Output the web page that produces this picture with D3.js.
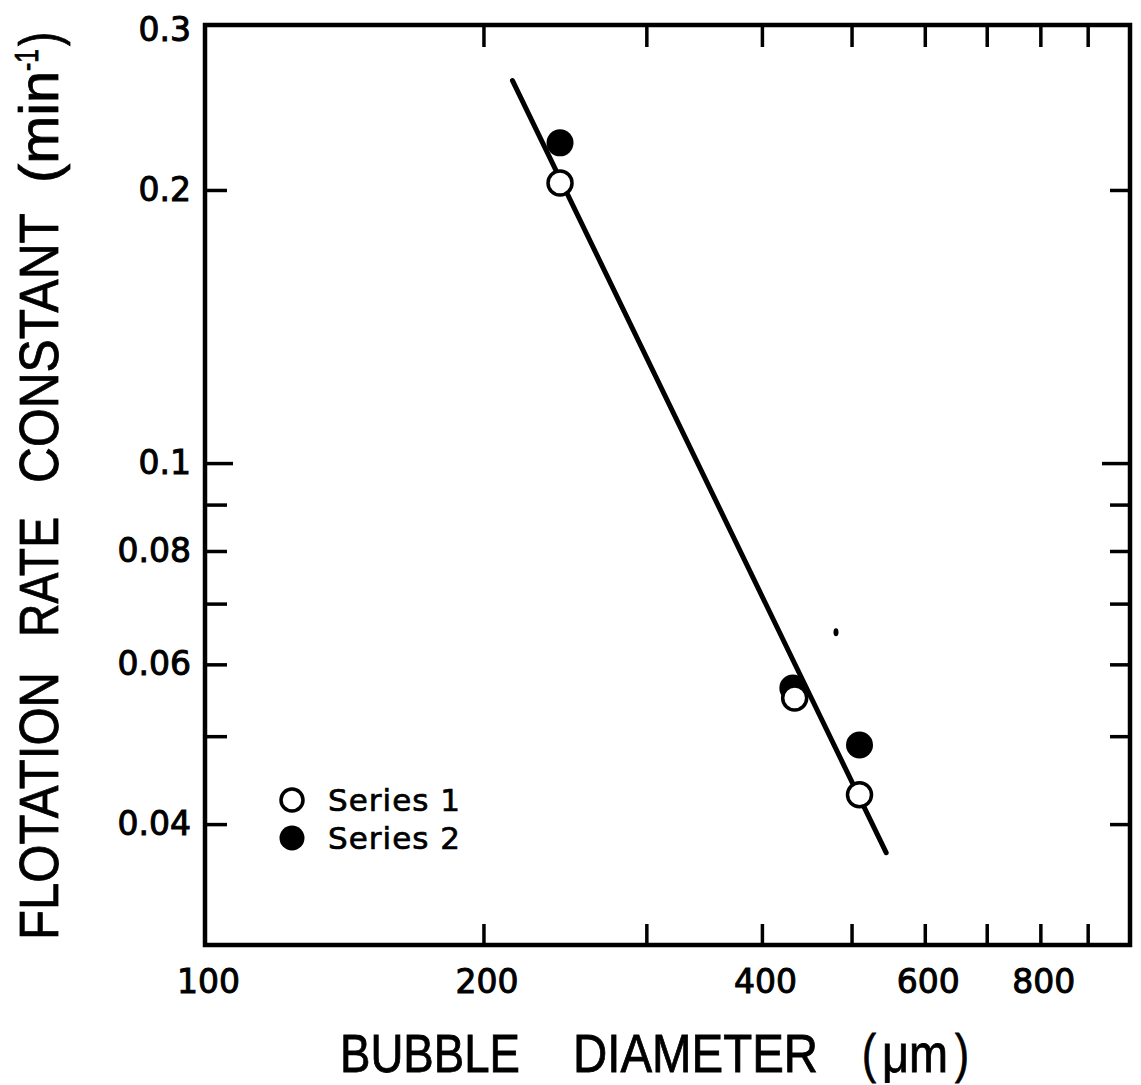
<!DOCTYPE html>
<html><head><meta charset="utf-8">
<script src="https://cdn.jsdelivr.net/npm/d3@7"></script>
<style>body{margin:0;background:#fff} svg{display:block}</style>
</head><body>
<script>
// ---- data ----
const series1X = [242, 434, 510];
const series1Y = [0.2036, 0.0551, 0.0431];
const series2X = [242, 432, 510];
const series2Y = [0.2254, 0.0565, 0.0489];
const fitX = [215, 545];
const fitY = [0.264, 0.0372];
const speckX = [481];
const speckY = [0.0651];
const xTicks = [200, 300, 400, 500, 600, 700, 800, 900];
const xTickLabels = [100, 200, 400, 600, 800];
const yTicks = [0.2, 0.1, 0.09, 0.08, 0.07, 0.06, 0.05, 0.04];
const yTickLabels = [0.3, 0.2, 0.1, 0.08, 0.06, 0.04];
const legendLabels = ["Series 1", "Series 2"];
const xTitleWords = ["BUBBLE", "DIAMETER", "(", "\u03bcm", ")"];
const yTitleWords = ["FLOTATION", "RATE", "CONSTANT", "(min", "-1", ")"];

// ---- layout ----
const W = 1141, H = 1085;
const svg = d3.select("body").append("svg").attr("width", W).attr("height", H)
  .style("font-family", "'Liberation Sans', Arial, sans-serif");

const x = d3.scaleLog().domain([100, 1000]).range([205, 1130]);
const y = d3.scaleLog().domain([0.02943, 0.304]).range([945, 25]);
const [xl, xr] = x.range();
const [yb, yt] = y.range();

function clean(g) { g.select(".domain").remove(); }

// ticks
const tickStyle = g => g.selectAll(".tick line").attr("stroke", "#000").attr("stroke-width", 3.5);
svg.append("g").attr("transform", `translate(${xl},0)`)
  .call(d3.axisRight(y).tickValues(yTicks).tickSize(22).tickFormat(""))
  .call(clean).call(tickStyle)
  .selectAll(".tick line").filter(d => d === 0.1).attr("x2", 28);
svg.append("g").attr("transform", `translate(${xr},0)`)
  .call(d3.axisLeft(y).tickValues(yTicks).tickSize(20).tickFormat(""))
  .call(clean).call(tickStyle)
  .selectAll(".tick line").filter(d => d === 0.1).attr("x2", -28);
svg.append("g").attr("transform", `translate(0,${yt})`)
  .call(d3.axisBottom(x).tickValues(xTicks).tickSize(22).tickFormat(""))
  .call(clean).call(tickStyle);
svg.append("g").attr("transform", `translate(0,${yb})`)
  .call(d3.axisTop(x).tickValues(xTicks).tickSize(21).tickFormat(""))
  .call(clean).call(tickStyle);

// frame
svg.append("rect").attr("x", xl).attr("y", yt).attr("width", xr - xl).attr("height", yb - yt)
  .attr("fill", "none").attr("stroke", "#000").attr("stroke-width", 4.5);

// tick labels
const labStyle = g => g.selectAll("text").attr("font-size", 33).attr("fill", "#000")
  .attr("stroke", "#000").attr("stroke-width", 1)
  .style("font-family", "'DejaVu Sans', sans-serif");
svg.append("g").attr("transform", `translate(${xl - 14},0)`)
  .call(d3.axisLeft(y).tickValues(yTickLabels).tickSize(0).tickPadding(0).tickFormat(d => String(d)))
  .call(clean).call(labStyle);
svg.append("g").attr("transform", `translate(3,${yb})`)
  .call(d3.axisBottom(x).tickValues(xTickLabels).tickSize(0).tickPadding(25).tickFormat(d => String(d)))
  .call(clean).call(labStyle);

// regression line
const line = d3.line().x(d => x(d[0])).y(d => y(d[1]));
svg.append("path").datum(d3.zip(fitX, fitY)).attr("d", line)
  .attr("fill", "none").attr("stroke", "#000").attr("stroke-width", 5).attr("stroke-linecap", "round");

// speck
svg.selectAll(".speck").data(d3.zip(speckX, speckY)).join("ellipse")
  .attr("cx", d => x(d[0])).attr("cy", d => y(d[1])).attr("rx", 2.5).attr("ry", 4).attr("fill", "#000");

// points
const R = 13;
svg.selectAll(".s2").data(d3.zip(series2X, series2Y)).join("circle")
  .attr("cx", d => x(d[0])).attr("cy", d => y(d[1])).attr("r", R + 0.5).attr("fill", "#000");
svg.selectAll(".s1").data(d3.zip(series1X, series1Y)).join("circle")
  .attr("cx", d => x(d[0])).attr("cy", d => y(d[1])).attr("r", R - 1)
  .attr("fill", "#fff").attr("stroke", "#000").attr("stroke-width", 3.5);

// legend
const lg = svg.append("g").attr("transform", "translate(292,800)");
legendLabels.forEach((t, i) => {
  const gy = i * 38;
  lg.append("circle").attr("cx", 0).attr("cy", gy).attr("r", i === 0 ? 11 : 12.5)
    .attr("fill", i === 0 ? "#fff" : "#000").attr("stroke", "#000").attr("stroke-width", i === 0 ? 3.5 : 0);
  lg.append("text").attr("x", 36).attr("y", gy + 11).text(t)
    .attr("font-size", 31).attr("textLength", 132).attr("lengthAdjust", "spacing")
    .attr("stroke", "#000").attr("stroke-width", 0.7)
    .style("font-family", "'DejaVu Sans', sans-serif");
});

// x title: one text per word
const xWordPos = [[340, 180], [573, 245], [862, 14], [882, 66], [955, 14]];
xTitleWords.forEach((w, i) => {
  svg.append("text").attr("x", xWordPos[i][0]).attr("y", 1072)
    .attr("font-size", 53).attr("stroke", "#000").attr("stroke-width", 0.8)
    .attr("textLength", xWordPos[i][1]).attr("lengthAdjust", "spacingAndGlyphs").text(w);
});

// y title: one text per word, rotated (start measured from the top of the page, reading upward)
const yWordPos = [[940, 268], [637, 120], [483, 270], [183, 112], [71, 22], [46, 14]];
yTitleWords.forEach((w, i) => {
  const sup = w === "-1";
  svg.append("text").attr("transform", `translate(${sup ? 38 : 58},${yWordPos[i][0]}) rotate(-90)`)
    .attr("font-size", sup ? 34 : 55).attr("stroke", "#000").attr("stroke-width", 0.8)
    .attr("textLength", yWordPos[i][1]).attr("lengthAdjust", "spacingAndGlyphs").text(w);
});
</script>
</body></html>
